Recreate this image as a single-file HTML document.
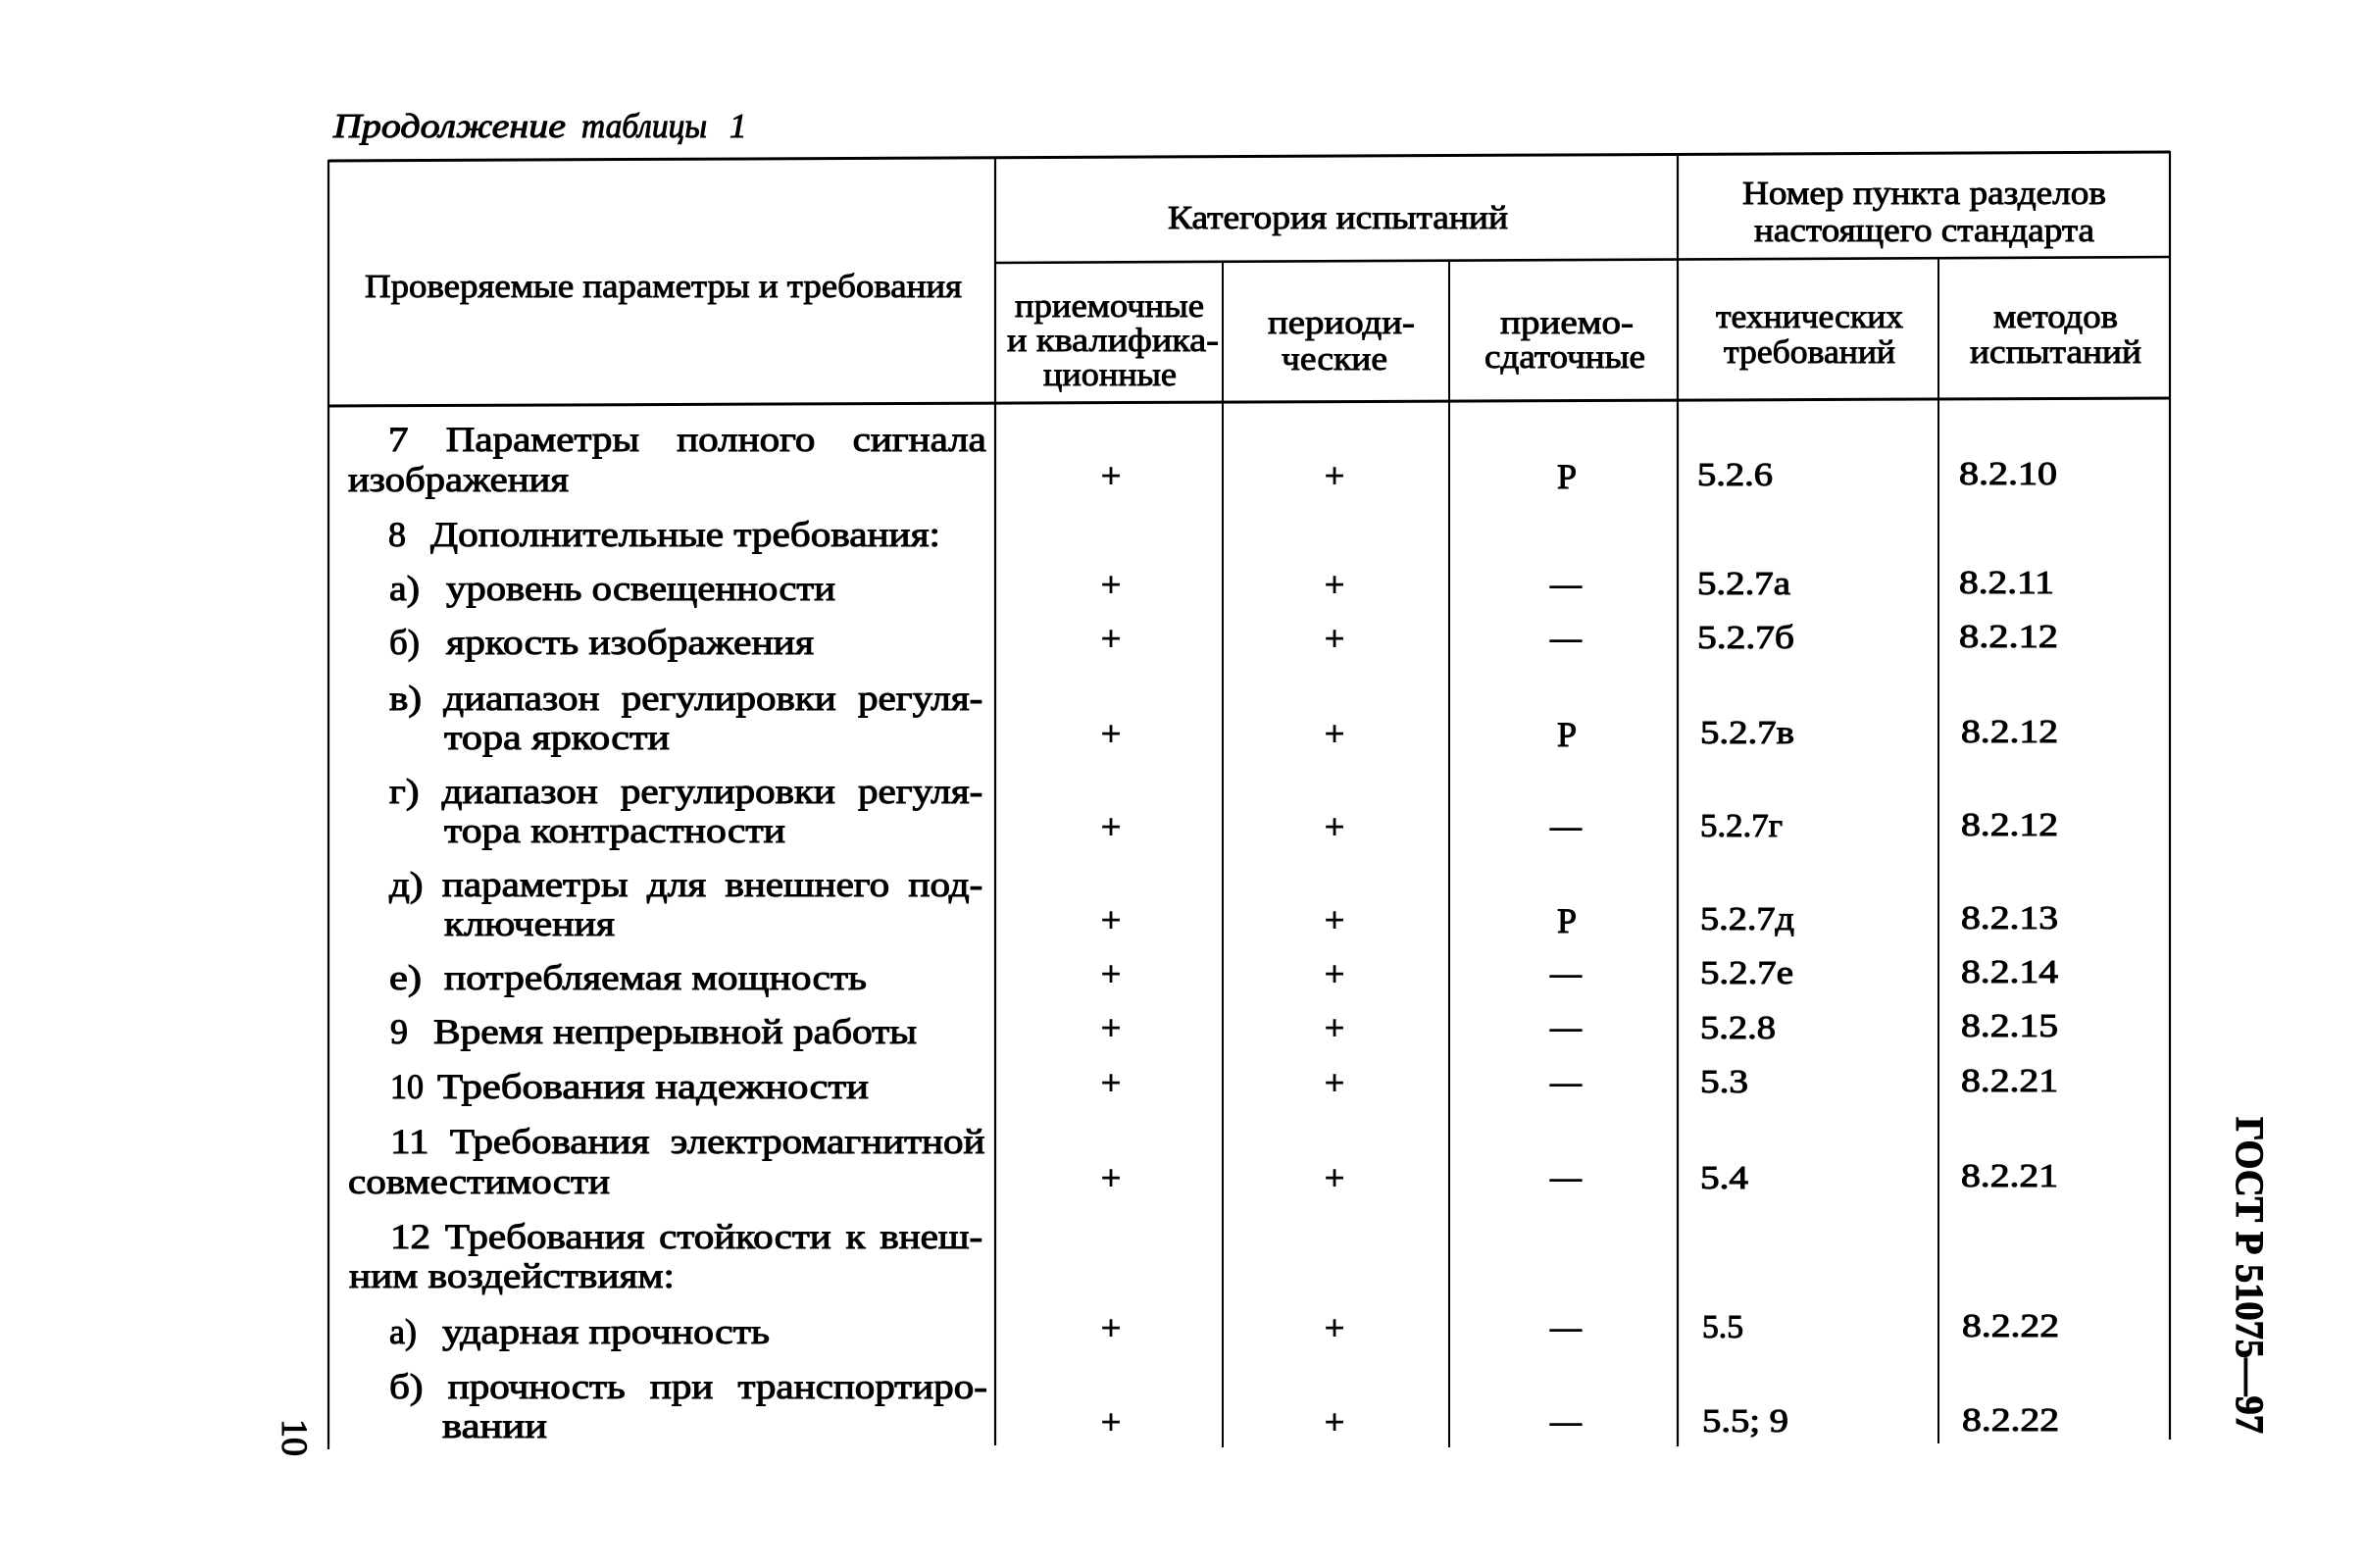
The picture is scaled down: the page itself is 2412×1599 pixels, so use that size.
<!DOCTYPE html>
<html><head><meta charset="utf-8"><style>
html,body{margin:0;padding:0;background:#fff;}
#w{position:relative;width:2412px;height:1599px;overflow:hidden;background:#fff;}
svg{display:block;position:absolute;left:0;top:0;}
text{font-family:"Liberation Serif","DejaVu Serif",serif;font-size:36px;fill:#000;stroke:#000;stroke-width:1px;}
.h{font-size:34px;stroke-width:0.9px;}
.v{font-size:34px;}
.it{font-style:italic;font-size:35px;}
.b{font-weight:bold;font-size:40px;}
line{stroke:#000;}
.j{position:absolute;display:flex;justify-content:space-between;white-space:nowrap;
 font-family:"Liberation Serif","DejaVu Serif",serif;font-size:36px;line-height:40px;height:40px;
 transform:scaleX(1.14);transform-origin:0 0;color:#000;-webkit-text-stroke:1px #000;}
</style></head><body><div id="w">
<svg width="2412" height="1599" viewBox="0 0 2412 1599" xmlns="http://www.w3.org/2000/svg">
<rect width="2412" height="1599" fill="#fff"/>

<!-- title -->
<text class="it" x="340" y="140" textLength="237" lengthAdjust="spacingAndGlyphs">Продолжение</text>
<text class="it" x="593" y="140" textLength="128" lengthAdjust="spacingAndGlyphs">таблицы</text>
<text class="it" x="744" y="140">1</text>

<!-- table lines -->
<line x1="335" y1="164" x2="2213" y2="155" stroke-width="3"/>
<line x1="1015" y1="268" x2="2213" y2="262" stroke-width="2.6"/>
<line x1="335" y1="414" x2="2213" y2="406" stroke-width="3"/>
<line x1="335" y1="163" x2="335" y2="1478" stroke-width="2.2"/>
<line x1="1015" y1="161" x2="1015" y2="1474" stroke-width="2.2"/>
<line x1="1247" y1="267" x2="1247" y2="1476" stroke-width="2"/>
<line x1="1478" y1="266" x2="1478" y2="1476" stroke-width="2"/>
<line x1="1711" y1="159" x2="1711" y2="1475" stroke-width="2.2"/>
<line x1="1977" y1="263" x2="1977" y2="1472" stroke-width="2"/>
<line x1="2213" y1="154" x2="2213" y2="1468" stroke-width="2.2"/>

<!-- header -->
<text class="h" x="372" y="303" textLength="609" lengthAdjust="spacingAndGlyphs">Проверяемые параметры и требования</text>
<text class="h" x="1191" y="233" textLength="347" lengthAdjust="spacingAndGlyphs">Категория испытаний</text>
<text class="h" x="1777" y="208" textLength="371" lengthAdjust="spacingAndGlyphs">Номер пункта разделов</text>
<text class="h" x="1789" y="246" textLength="347" lengthAdjust="spacingAndGlyphs">настоящего стандарта</text>
<text class="h" x="1035" y="323" textLength="193" lengthAdjust="spacingAndGlyphs">приемочные</text>
<text class="h" x="1027" y="358" textLength="216" lengthAdjust="spacingAndGlyphs">и квалифика-</text>
<text class="h" x="1064" y="393" textLength="136" lengthAdjust="spacingAndGlyphs">ционные</text>
<text class="h" x="1293" y="340" textLength="150" lengthAdjust="spacingAndGlyphs">периоди-</text>
<text class="h" x="1307" y="377" textLength="108" lengthAdjust="spacingAndGlyphs">ческие</text>
<text class="h" x="1530" y="340" textLength="136" lengthAdjust="spacingAndGlyphs">приемо-</text>
<text class="h" x="1514" y="375" textLength="164" lengthAdjust="spacingAndGlyphs">сдаточные</text>
<text class="h" x="1750" y="334" textLength="191" lengthAdjust="spacingAndGlyphs">технических</text>
<text class="h" x="1758" y="370" textLength="175" lengthAdjust="spacingAndGlyphs">требований</text>
<text class="h" x="2033" y="334" textLength="127" lengthAdjust="spacingAndGlyphs">методов</text>
<text class="h" x="2009" y="370" textLength="175" lengthAdjust="spacingAndGlyphs">испытаний</text>

<!-- body text column 1 (non-justified lines) -->
<text x="355" y="501" textLength="225" lengthAdjust="spacingAndGlyphs">изображения</text>

<text x="396" y="557">8</text>
<text x="439" y="557" textLength="520" lengthAdjust="spacingAndGlyphs">Дополнительные требования:</text>

<text x="397" y="612" textLength="31" lengthAdjust="spacingAndGlyphs">а)</text>
<text x="455" y="612" textLength="397" lengthAdjust="spacingAndGlyphs">уровень освещенности</text>

<text x="397" y="667" textLength="31" lengthAdjust="spacingAndGlyphs">б)</text>
<text x="455" y="667" textLength="375" lengthAdjust="spacingAndGlyphs">яркость изображения</text>

<text x="453" y="764" textLength="230" lengthAdjust="spacingAndGlyphs">тора яркости</text>
<text x="453" y="859" textLength="348" lengthAdjust="spacingAndGlyphs">тора контрастности</text>
<text x="453" y="954" textLength="174" lengthAdjust="spacingAndGlyphs">ключения</text>

<text x="397" y="1009" textLength="33" lengthAdjust="spacingAndGlyphs">е)</text>
<text x="453" y="1009" textLength="431" lengthAdjust="spacingAndGlyphs">потребляемая мощность</text>

<text x="398" y="1064">9</text>
<text x="442" y="1064" textLength="493" lengthAdjust="spacingAndGlyphs">Время непрерывной работы</text>

<text x="398" y="1120" textLength="34" lengthAdjust="spacingAndGlyphs">10</text>
<text x="446" y="1120" textLength="440" lengthAdjust="spacingAndGlyphs">Требования надежности</text>

<text x="355" y="1217" textLength="267" lengthAdjust="spacingAndGlyphs">совместимости</text>
<text x="356" y="1313" textLength="332" lengthAdjust="spacingAndGlyphs">ним воздействиям:</text>

<text x="397" y="1370" textLength="28" lengthAdjust="spacingAndGlyphs">а)</text>
<text x="451" y="1370" textLength="334" lengthAdjust="spacingAndGlyphs">ударная прочность</text>

<text x="451" y="1466" textLength="107" lengthAdjust="spacingAndGlyphs">вании</text>

<!-- plus columns -->
<g text-anchor="middle">
<text x="1133" y="497">+</text><text x="1361" y="497">+</text>
<text x="1133" y="608">+</text><text x="1361" y="608">+</text>
<text x="1133" y="663">+</text><text x="1361" y="663">+</text>
<text x="1133" y="760">+</text><text x="1361" y="760">+</text>
<text x="1133" y="855">+</text><text x="1361" y="855">+</text>
<text x="1133" y="950">+</text><text x="1361" y="950">+</text>
<text x="1133" y="1005">+</text><text x="1361" y="1005">+</text>
<text x="1133" y="1060">+</text><text x="1361" y="1060">+</text>
<text x="1133" y="1116">+</text><text x="1361" y="1116">+</text>
<text x="1133" y="1213">+</text><text x="1361" y="1213">+</text>
<text x="1133" y="1366">+</text><text x="1361" y="1366">+</text>
<text x="1133" y="1462">+</text><text x="1361" y="1462">+</text>
<text x="1598" y="498">Р</text>
<text x="1598" y="761">Р</text>
<text x="1598" y="951">Р</text>
</g>
<!-- dashes -->
<g>
<text x="1581" y="607" textLength="32" lengthAdjust="spacingAndGlyphs">—</text>
<text x="1581" y="662" textLength="32" lengthAdjust="spacingAndGlyphs">—</text>
<text x="1581" y="854" textLength="32" lengthAdjust="spacingAndGlyphs">—</text>
<text x="1581" y="1004" textLength="32" lengthAdjust="spacingAndGlyphs">—</text>
<text x="1581" y="1059" textLength="32" lengthAdjust="spacingAndGlyphs">—</text>
<text x="1581" y="1115" textLength="32" lengthAdjust="spacingAndGlyphs">—</text>
<text x="1581" y="1212" textLength="32" lengthAdjust="spacingAndGlyphs">—</text>
<text x="1581" y="1365" textLength="32" lengthAdjust="spacingAndGlyphs">—</text>
<text x="1581" y="1461" textLength="32" lengthAdjust="spacingAndGlyphs">—</text>
</g>

<!-- technical requirements column -->
<text class="v" x="1731" y="495" textLength="77" lengthAdjust="spacingAndGlyphs">5.2.6</text>
<text class="v" x="1731" y="606" textLength="95" lengthAdjust="spacingAndGlyphs">5.2.7а</text>
<text class="v" x="1731" y="661" textLength="99" lengthAdjust="spacingAndGlyphs">5.2.7б</text>
<text class="v" x="1734" y="758" textLength="96" lengthAdjust="spacingAndGlyphs">5.2.7в</text>
<text class="v" x="1734" y="853" textLength="84" lengthAdjust="spacingAndGlyphs">5.2.7г</text>
<text class="v" x="1734" y="948" textLength="96" lengthAdjust="spacingAndGlyphs">5.2.7д</text>
<text class="v" x="1734" y="1003" textLength="95" lengthAdjust="spacingAndGlyphs">5.2.7е</text>
<text class="v" x="1734" y="1059" textLength="77" lengthAdjust="spacingAndGlyphs">5.2.8</text>
<text class="v" x="1734" y="1114" textLength="49" lengthAdjust="spacingAndGlyphs">5.3</text>
<text class="v" x="1734" y="1212" textLength="49" lengthAdjust="spacingAndGlyphs">5.4</text>
<text class="v" x="1736" y="1364" textLength="42" lengthAdjust="spacingAndGlyphs">5.5</text>
<text class="v" x="1736" y="1460" textLength="88" lengthAdjust="spacingAndGlyphs">5.5; 9</text>

<!-- test methods column -->
<text class="v" x="1998" y="494" textLength="100" lengthAdjust="spacingAndGlyphs">8.2.10</text>
<text class="v" x="1998" y="605" textLength="97" lengthAdjust="spacingAndGlyphs">8.2.11</text>
<text class="v" x="1998" y="660" textLength="101" lengthAdjust="spacingAndGlyphs">8.2.12</text>
<text class="v" x="2000" y="757" textLength="99" lengthAdjust="spacingAndGlyphs">8.2.12</text>
<text class="v" x="2000" y="852" textLength="99" lengthAdjust="spacingAndGlyphs">8.2.12</text>
<text class="v" x="2000" y="947" textLength="99" lengthAdjust="spacingAndGlyphs">8.2.13</text>
<text class="v" x="2000" y="1002" textLength="99" lengthAdjust="spacingAndGlyphs">8.2.14</text>
<text class="v" x="2000" y="1057" textLength="99" lengthAdjust="spacingAndGlyphs">8.2.15</text>
<text class="v" x="2000" y="1113" textLength="99" lengthAdjust="spacingAndGlyphs">8.2.21</text>
<text class="v" x="2000" y="1210" textLength="99" lengthAdjust="spacingAndGlyphs">8.2.21</text>
<text class="v" x="2001" y="1363" textLength="99" lengthAdjust="spacingAndGlyphs">8.2.22</text>
<text class="v" x="2001" y="1459" textLength="99" lengthAdjust="spacingAndGlyphs">8.2.22</text>

<!-- rotated marginal texts -->
<text class="b" transform="translate(2281,1139) rotate(90)" textLength="323" lengthAdjust="spacingAndGlyphs">ГОСТ Р 51075—97</text>
<text transform="translate(288,1447) rotate(90)" style="font-size:37px" textLength="38" lengthAdjust="spacingAndGlyphs">10</text>
</svg>

<!-- justified lines -->
<div class="j" style="left:396px;top:428px;width:535px"><span>7</span><span>Параметры</span><span>полного</span><span>сигнала</span></div>
<div class="j" style="left:397px;top:692px;width:531px"><span>в)</span><span>диапазон</span><span>регулировки</span><span>регуля-</span></div>
<div class="j" style="left:397px;top:787px;width:531px"><span>г)</span><span>диапазон</span><span>регулировки</span><span>регуля-</span></div>
<div class="j" style="left:397px;top:882px;width:531px"><span>д)</span><span>параметры</span><span>для</span><span>внешнего</span><span>под-</span></div>
<div class="j" style="left:398px;top:1144px;width:532px"><span>11</span><span>Требования</span><span>электромагнитной</span></div>
<div class="j" style="left:398px;top:1241px;width:530px"><span>12</span><span>Требования</span><span>стойкости</span><span>к</span><span>внеш-</span></div>
<div class="j" style="left:397px;top:1394px;width:535px"><span>б)</span><span>прочность</span><span>при</span><span>транспортиро-</span></div>
</div></body></html>
